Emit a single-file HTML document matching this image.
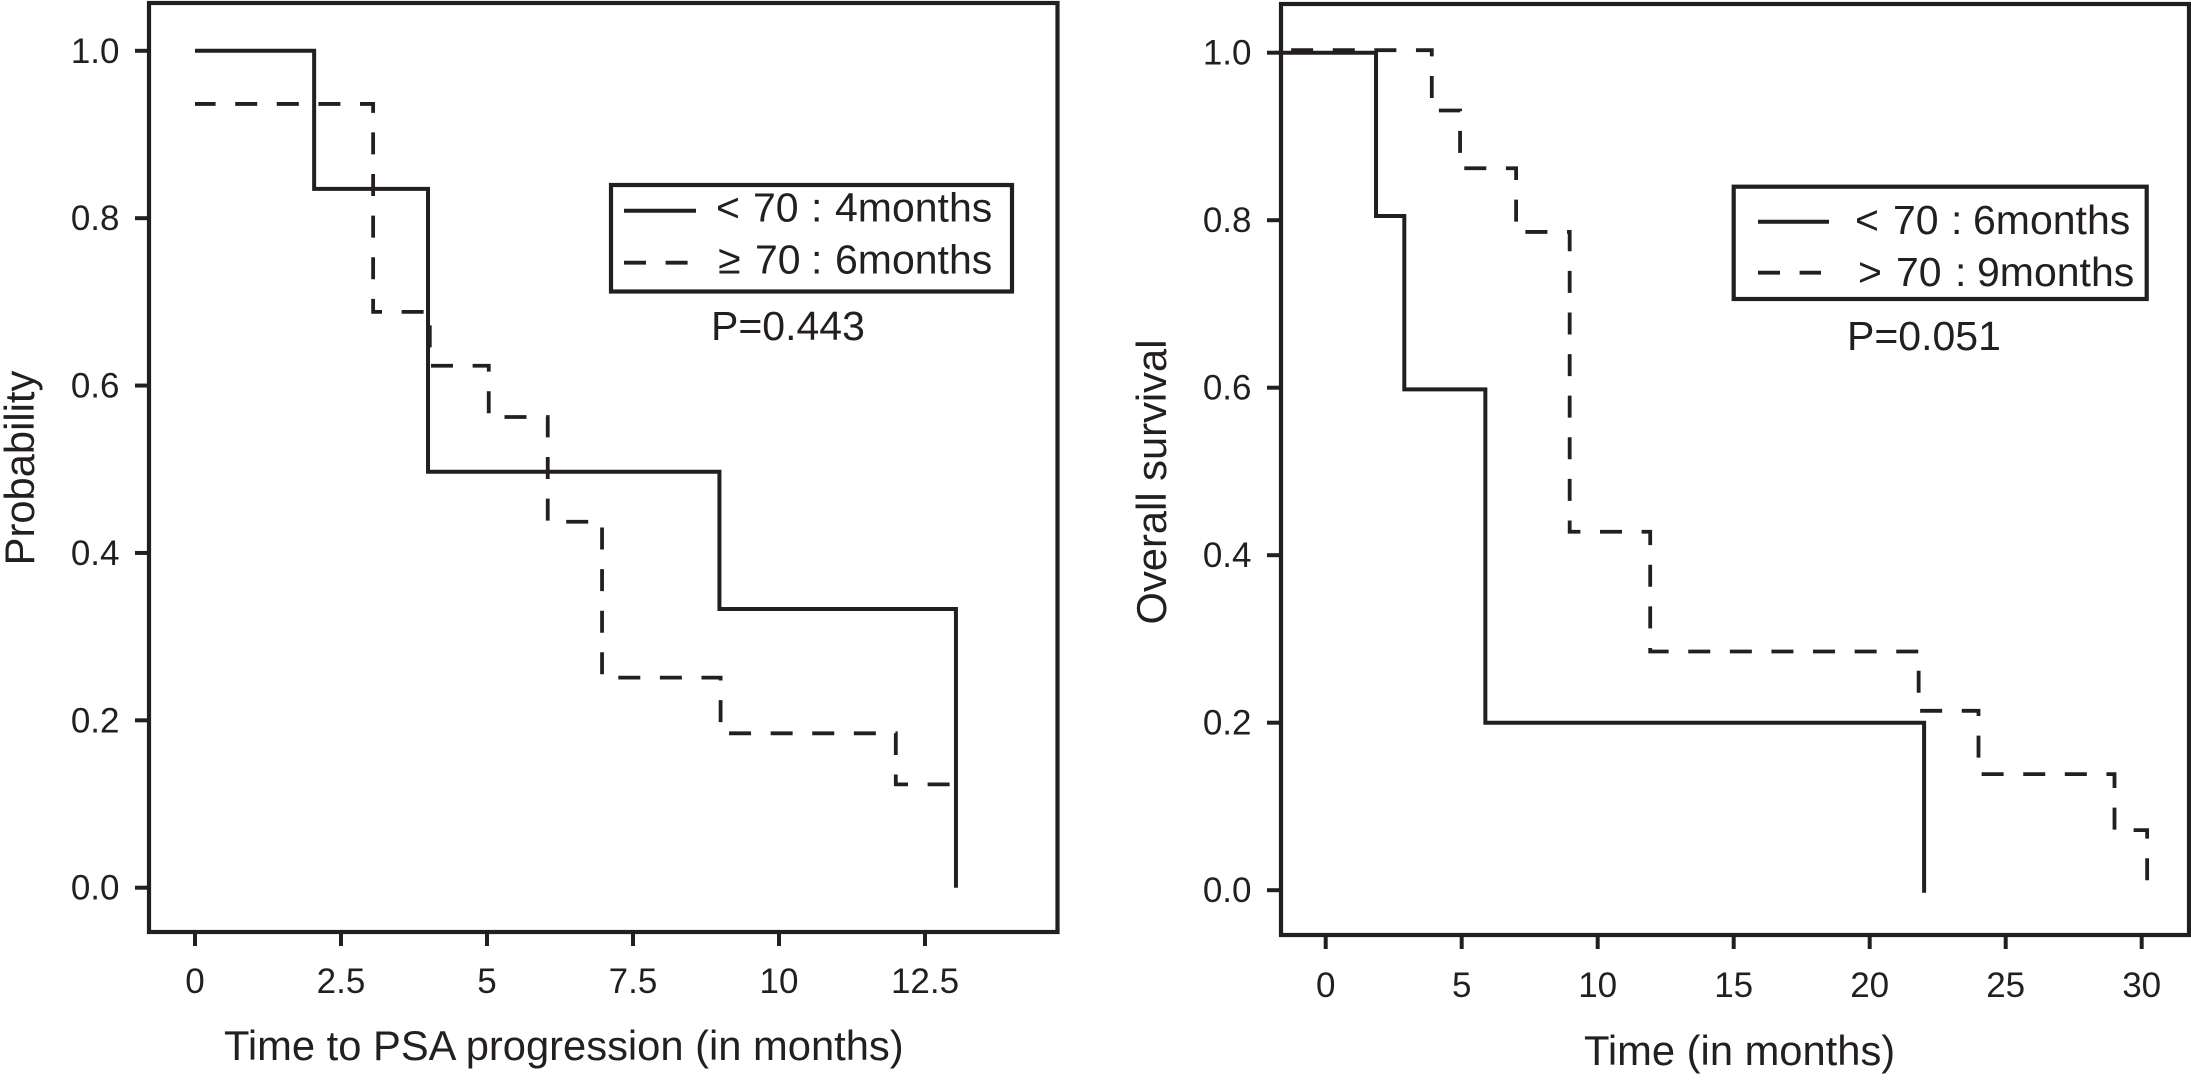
<!DOCTYPE html>
<html>
<head>
<meta charset="utf-8">
<title>Kaplan-Meier charts</title>
<style>
html,body{margin:0;padding:0;background:#fff;width:2191px;height:1087px;overflow:hidden}
svg{display:block}
text{font-family:"Liberation Sans",Arial,sans-serif;fill:#231f20}
.frame{fill:none;stroke:#231f20;stroke-width:4.2}
.solid{fill:none;stroke:#231f20;stroke-width:4;stroke-linejoin:miter}
.dashed{fill:none;stroke:#231f20;stroke-width:3.8;stroke-dasharray:22 19.6;stroke-linejoin:miter}
.title{font-size:41.7px}
.leg{font-size:41px}
.tick{font-size:35px}
</style>
</head>
<body>
<svg id="chart" xmlns="http://www.w3.org/2000/svg" width="2191" height="1087" viewBox="0 0 2191 1087">
  <rect x="0" y="0" width="2191" height="1087" fill="#ffffff"/>
  <g id="left-panel">
    <rect class="frame" x="149" y="3" width="908.5" height="929"/>
    <text class="title" x="224" y="1060">Time to PSA progression (in months)</text>
    <text class="title" text-anchor="middle" transform="translate(34 468) rotate(-90)">Probability</text>
    <rect class="frame" x="611" y="185" width="401" height="106.5"/>
    <line class="solid" x1="624" x2="696" y1="210.7" y2="210.7"/>
    <line class="dashed" x1="624" x2="689" y1="262.7" y2="262.7"/>
    <text class="leg" y="221.7"><tspan x="716">&lt;</tspan><tspan x="753">70</tspan><tspan x="811">:</tspan><tspan x="835">4months</tspan></text>
    <text class="leg" y="273.3"><tspan x="718">≥</tspan><tspan x="755">70</tspan><tspan x="811">:</tspan><tspan x="835">6months</tspan></text>
    <text class="leg" x="711" y="340">P=0.443</text>
  </g>
  <g id="right-panel">
    <rect class="frame" x="1281" y="4" width="908" height="931"/>
    <text class="title" x="1584" y="1065">Time (in months)</text>
    <text class="title" text-anchor="middle" transform="translate(1166 482) rotate(-90)">Overall survival</text>
    <rect class="frame" x="1733.7" y="186.7" width="413" height="112.3"/>
    <line class="solid" x1="1758" x2="1829" y1="221.7" y2="221.7"/>
    <line class="dashed" x1="1758" x2="1821" y1="272.7" y2="272.7"/>
    <text class="leg" y="234"><tspan x="1855">&lt;</tspan><tspan x="1893">70</tspan><tspan x="1951">:</tspan><tspan x="1973">6months</tspan></text>
    <text class="leg" y="286"><tspan x="1858">&gt;</tspan><tspan x="1896">70</tspan><tspan x="1955">:</tspan><tspan x="1977">9months</tspan></text>
    <text class="leg" x="1847" y="350">P=0.051</text>
  </g>
</svg>
<script>
const leftXTicks = [0, 2.5, 5, 7.5, 10, 12.5];
const leftXTickLabels = ['0', '2.5', '5', '7.5', '10', '12.5'];
const rightXTicks = [0, 5, 10, 15, 20, 25, 30];
const rightXTickLabels = ['0', '5', '10', '15', '20', '25', '30'];
const yTicks = [0, 0.2, 0.4, 0.6, 0.8, 1.0];
const yTickLabels = ['0.0', '0.2', '0.4', '0.6', '0.8', '1.0'];

const leftSolidTimes = [0, 2.04, 3.99, 8.98, 13.03];
const leftSolidValues = [1, 0.835, 0.497, 0.333, 0];
const leftDashedTimes = [0, 3.05, 4.02, 5.03, 6.04, 6.97, 9, 12, 12.95];
const leftDashedValues = [0.9365, 0.688, 0.6237, 0.5624, 0.4373, 0.251, 0.1845, 0.1235, 0.1235];

const rightSolidTimes = [-1.63, 1.85, 2.89, 5.87, 22];
const rightSolidValues = [1, 0.805, 0.598, 0.2, -0.003];
const rightDashedTimes = [-1.63, 3.9, 4.94, 7, 8.97, 11.93, 21.8, 24, 29, 30.2];
const rightDashedValues = [1.003, 0.931, 0.862, 0.786, 0.428, 0.285, 0.2142, 0.1386, 0.0717, 0.008];

const leftX = t => 195 + 58.4 * t;
const leftY = v => 887.7 - 836.9 * v;
const rightX = t => 1325.7 + 27.2 * t;
const rightY = v => 890.2 - 837.5 * v;

const NS = 'http://www.w3.org/2000/svg';
const ink = '#231f20';

function stepPath(times, values, sx, sy) {
  let d = 'M' + sx(times[0]).toFixed(2) + ' ' + sy(values[0]).toFixed(2);
  for (let i = 1; i < times.length; i++) {
    d += ' H' + sx(times[i]).toFixed(2) + ' V' + sy(values[i]).toFixed(2);
  }
  return d;
}

function drawCurve(parent, name, cls, times, values, sx, sy, dashOffset) {
  const p = document.createElementNS(NS, 'path');
  p.setAttribute('class', cls);
  p.setAttribute('d', stepPath(times, values, sx, sy));
  p.setAttribute('stroke-dashoffset', dashOffset);
  
  
  parent.appendChild(p);
}

function drawXAxis(parent, prefix, ticks, labels, sx, axisY, labelY) {
  ticks.forEach((t, i) => {
    const tick = document.createElementNS(NS, 'line');
    tick.setAttribute('x1', sx(t));
    tick.setAttribute('x2', sx(t));
    tick.setAttribute('y1', axisY);
    tick.setAttribute('y2', axisY + 14);
    tick.setAttribute('stroke', ink);
    tick.setAttribute('stroke-width', '4');
    
    
    parent.appendChild(tick);
    const label = document.createElementNS(NS, 'text');
    label.setAttribute('class', 'tick');
    label.setAttribute('x', sx(t));
    label.setAttribute('y', labelY);
    label.setAttribute('text-anchor', 'middle');
    
    
    label.textContent = labels[i];
    parent.appendChild(label);
  });
}

function drawYAxis(parent, prefix, ticks, labels, sy, axisX, labelRight) {
  ticks.forEach((v, i) => {
    const tick = document.createElementNS(NS, 'line');
    tick.setAttribute('x1', axisX - 14);
    tick.setAttribute('x2', axisX);
    tick.setAttribute('y1', sy(v));
    tick.setAttribute('y2', sy(v));
    tick.setAttribute('stroke', ink);
    tick.setAttribute('stroke-width', '4');
    
    
    parent.appendChild(tick);
    const label = document.createElementNS(NS, 'text');
    label.setAttribute('class', 'tick');
    label.setAttribute('x', labelRight);
    label.setAttribute('y', sy(v) + 12);
    label.setAttribute('text-anchor', 'end');
    
    
    label.textContent = labels[i];
    parent.appendChild(label);
  });
}

const leftPanel = document.getElementById('left-panel');
const rightPanel = document.getElementById('right-panel');

drawXAxis(leftPanel, 'left', leftXTicks, leftXTickLabels, leftX, 932, 993);
drawYAxis(leftPanel, 'left', yTicks, yTickLabels, leftY, 149, 119.5);
drawCurve(leftPanel, 'left-under-70-curve', 'solid', leftSolidTimes, leftSolidValues, leftX, leftY, 0);
drawCurve(leftPanel, 'left-over-70-curve', 'dashed', leftDashedTimes, leftDashedValues, leftX, leftY, 1.4);

drawXAxis(rightPanel, 'right', rightXTicks, rightXTickLabels, rightX, 935, 997);
drawYAxis(rightPanel, 'right', yTicks, yTickLabels, rightY, 1281, 1251.5);
drawCurve(rightPanel, 'right-under-70-curve', 'solid', rightSolidTimes, rightSolidValues, rightX, rightY, 0);
drawCurve(rightPanel, 'right-over-70-curve', 'dashed', rightDashedTimes, rightDashedValues, rightX, rightY, 31.8);
</script>
</body>
</html>
